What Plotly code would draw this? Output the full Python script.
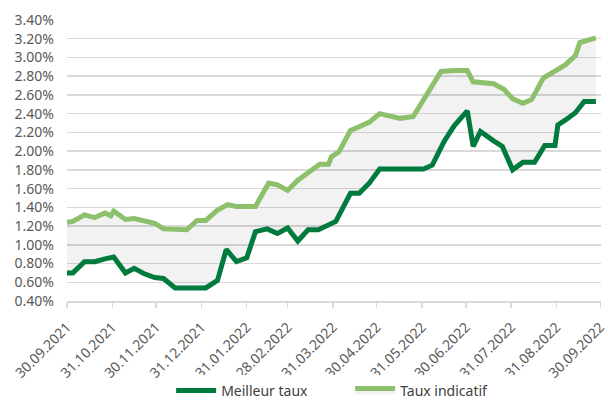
import plotly.graph_objects as go

# Meilleur taux (best rate)
best_dates = [
    "2021-09-30", "2021-10-04", "2021-10-12", "2021-10-19", "2021-10-26", "2021-11-01",
    "2021-11-09", "2021-11-15", "2021-11-22", "2021-11-29", "2021-12-05", "2021-12-13",
    "2021-12-20", "2021-12-27", "2022-01-03", "2022-01-11", "2022-01-17", "2022-01-24",
    "2022-01-31", "2022-02-06", "2022-02-14", "2022-02-21", "2022-02-28", "2022-03-07",
    "2022-03-14", "2022-03-21", "2022-03-27", "2022-04-02", "2022-04-06", "2022-04-12",
    "2022-04-18", "2022-04-25", "2022-05-02", "2022-05-11", "2022-05-18", "2022-05-25",
    "2022-06-01", "2022-06-07", "2022-06-15", "2022-06-22", "2022-07-01", "2022-07-05",
    "2022-07-10", "2022-07-19", "2022-07-25", "2022-08-01", "2022-08-08", "2022-08-16",
    "2022-08-23", "2022-08-30", "2022-09-01", "2022-09-06", "2022-09-13", "2022-09-19",
    "2022-09-27",
]
best_values = [
    0.70, 0.70, 0.82, 0.82, 0.85, 0.87,
    0.70, 0.75, 0.69, 0.65, 0.64, 0.54,
    0.54, 0.54, 0.54, 0.62, 0.95, 0.82,
    0.86, 1.14, 1.17, 1.12, 1.18, 1.04,
    1.16, 1.16, 1.20, 1.25, 1.37, 1.55,
    1.55, 1.66, 1.81, 1.81, 1.81, 1.81,
    1.81, 1.85, 2.10, 2.27, 2.43, 2.05,
    2.21, 2.11, 2.05, 1.80, 1.88, 1.88,
    2.06, 2.06, 2.28, 2.33, 2.41, 2.53,
    2.53,
]

# Taux indicatif (indicative rate)
ind_dates = [
    "2021-09-30", "2021-10-04", "2021-10-12", "2021-10-19", "2021-10-26", "2021-10-30",
    "2021-11-01", "2021-11-09", "2021-11-15", "2021-11-22", "2021-11-29", "2021-12-05",
    "2021-12-13", "2021-12-21", "2021-12-28", "2022-01-03", "2022-01-11", "2022-01-18",
    "2022-01-24", "2022-01-31", "2022-02-06", "2022-02-15", "2022-02-21", "2022-02-28",
    "2022-03-07", "2022-03-14", "2022-03-22", "2022-03-28", "2022-03-30", "2022-04-04",
    "2022-04-12", "2022-04-18", "2022-04-25", "2022-05-02", "2022-05-10", "2022-05-16",
    "2022-05-25", "2022-06-02", "2022-06-13", "2022-06-22", "2022-07-01", "2022-07-05",
    "2022-07-19", "2022-07-26", "2022-08-01", "2022-08-08", "2022-08-14", "2022-08-22",
    "2022-08-29", "2022-09-06", "2022-09-13", "2022-09-16", "2022-09-27",
]
ind_values = [
    1.24, 1.25, 1.32, 1.29, 1.34, 1.31,
    1.36, 1.27, 1.28, 1.25, 1.23, 1.17,
    1.16, 1.16, 1.26, 1.26, 1.37, 1.43,
    1.41, 1.41, 1.41, 1.66, 1.64, 1.58,
    1.69, 1.77, 1.86, 1.86, 1.94, 1.99,
    2.22, 2.26, 2.31, 2.40, 2.37, 2.35,
    2.37, 2.57, 2.85, 2.86, 2.86, 2.74,
    2.72, 2.66, 2.56, 2.51, 2.55, 2.78,
    2.85, 2.92, 3.02, 3.16, 3.21,
]

tick_dates = [
    "2021-09-30", "2021-10-31", "2021-11-30", "2021-12-31", "2022-01-31", "2022-02-28",
    "2022-03-31", "2022-04-30", "2022-05-31", "2022-06-30", "2022-07-31", "2022-08-31",
    "2022-09-30",
]
tick_labels = [
    "30.09.2021", "31.10.2021", "30.11.2021", "31.12.2021", "31.01.2022", "28.02.2022",
    "31.03.2022", "30.04.2022", "31.05.2022", "30.06.2022", "31.07.2022", "31.08.2022",
    "30.09.2022",
]
series_names = ["Meilleur taux", "Taux indicatif"]

DARK = "#007a3d"
LIGHT = "#8cc06a"
FONT = "Noto Sans"

fig = go.Figure()
fig.add_trace(go.Scatter(
    x=best_dates, y=best_values, name=series_names[0], mode="lines",
    line=dict(color=DARK, width=5), hoverinfo="skip",
))
fig.add_trace(go.Scatter(
    x=ind_dates, y=ind_values, name=series_names[1], mode="lines",
    line=dict(color=LIGHT, width=5), fill="tonexty",
    fillcolor="rgba(0,0,0,0.05)", hoverinfo="skip",
))

fig.update_layout(
    width=608, height=403,
    margin=dict(l=67, r=7, t=20, b=102),
    paper_bgcolor="white", plot_bgcolor="white",
    font=dict(family=FONT, size=14, color="#595959"),
    showlegend=True,
    legend=dict(
        orientation="h", x=0.195, xanchor="left",
        yref="container", y=0.03, yanchor="middle",
        traceorder="normal",
        font=dict(family=FONT, size=14, color="#404040"),
        itemwidth=40, tracegroupgap=0,
        entrywidth=124, entrywidthmode="pixels",
    ),
    xaxis=dict(
        type="date", range=["2021-09-30", "2022-09-30 12:00"],
        tickmode="array", tickvals=tick_dates, ticktext=tick_labels,
        tickangle=-45, showgrid=False, zeroline=False, automargin=False,
        showline=True, linecolor="#d9d9d9", linewidth=1.5,
        ticks="outside", ticklen=5, tickcolor="#d9d9d9", tickwidth=1.5,
        ticklabelstandoff=6, ticklabeloverflow="allow",
        tickfont=dict(family=FONT, size=14, color="#595959"),
    ),
    yaxis=dict(
        range=[0.40, 3.40], dtick=0.2, tick0=0.4, automargin=False,
        tickformat=".2f", ticksuffix="%",
        showgrid=True, gridcolor="#d9d9d9", gridwidth=1.5,
        zeroline=False, showline=False, ticks="", ticklabelstandoff=12,
        tickfont=dict(family=FONT, size=14, color="#595959"),
    ),
)

fig.write_html(
    "out.html",
    config={"displayModeBar": False, "staticPlot": True},
    post_script="document.body.style.margin='0';document.body.style.overflow='hidden';",
)
